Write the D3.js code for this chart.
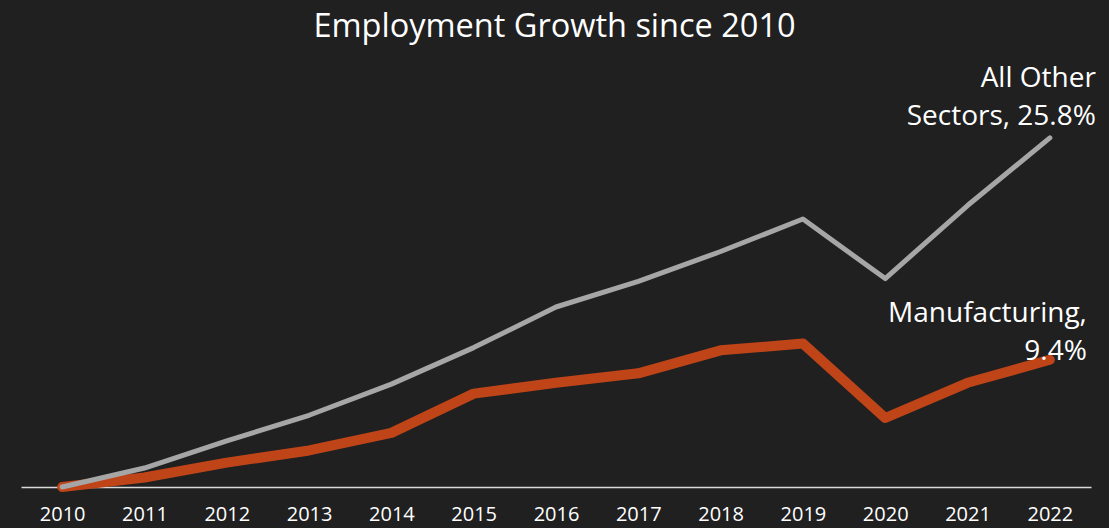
<!DOCTYPE html>
<html>
<head>
<meta charset="utf-8">
<script src="https://cdn.jsdelivr.net/npm/d3@7"></script>
<style>
  html, body { margin: 0; padding: 0; background: #202021; }
  svg { display: block; font-family: "Open Sans", sans-serif; }
</style>
</head>
<body>
<script>
(function() {
  'use strict';

  const years = ['2010', '2011', '2012', '2013', '2014', '2015', '2016',
    '2017', '2018', '2019', '2020', '2021', '2022'];
  const otherSectors = [0, 1.4, 3.4, 5.3, 7.6, 10.3, 13.3, 15.2, 17.4, 19.8, 15.4, 20.8, 25.8];
  const manufacturing = [0, 0.7, 1.8, 2.7, 4.0, 6.9, 7.7, 8.4, 10.1, 10.6, 5.1, 7.7, 9.4];
  const otherLabel = ['All Other', 'Sectors, 25.8%'];
  const mfgLabel = ['Manufacturing,', '9.4%'];

  const w = 1109;
  const h = 528;

  const svg = d3.select('body')
    .append('svg')
    .attr('width', w)
    .attr('height', h);

  svg.append('rect')
    .attr('width', w)
    .attr('height', h)
    .attr('fill', '#202021');

  // scales
  const xScale = d3.scalePoint()
    .domain(years)
    .range([21, 1091])
    .padding(0.5);

  const yScale = d3.scaleLinear()
    .domain([0, 30])
    .range([487, 81]);

  // title
  svg.append('text')
    .attr('x', w / 2)
    .attr('y', 37)
    .attr('text-anchor', 'middle')
    .attr('fill', '#ffffff')
    .attr('font-size', 32.5)
    .text('Employment Growth since 2010');

  // x axis, no ticks, just the baseline
  const xAxis = d3.axisBottom(xScale).tickSize(0).tickPadding(20);
  const gx = svg.append('g')
    .attr('transform', 'translate(0,' + yScale(0) + ')')
    .call(xAxis);
  gx.select('.domain')
    .attr('stroke', '#d9d9d9')
    .attr('stroke-width', 1.5);
  gx.selectAll('text')
    .attr('fill', '#ffffff')
    .attr('font-size', 20)
    .attr('font-family', '"Open Sans", sans-serif');

  const line = d3.line()
    .x((d, i) => xScale(years[i]))
    .y((d) => yScale(d));

  svg.append('path')
    .datum(manufacturing)
    .attr('d', line)
    .attr('fill', 'none')
    .attr('stroke', '#bf4518')
    .attr('stroke-width', 10)
    .attr('stroke-linejoin', 'round')
    .attr('stroke-linecap', 'round');

  svg.append('path')
    .datum(otherSectors)
    .attr('d', line)
    .attr('fill', 'none')
    .attr('stroke', '#a6a6a6')
    .attr('stroke-width', 5)
    .attr('stroke-linejoin', 'round')
    .attr('stroke-linecap', 'round');

  // end labels
  const last = years.length - 1;
  const xEnd = xScale(years[last]);

  const otherText = svg.append('text')
    .attr('text-anchor', 'end')
    .attr('fill', '#ffffff')
    .attr('font-size', 28);
  otherLabel.forEach((t, i) => {
    otherText.append('tspan')
      .attr('x', xEnd + 46)
      .attr('y', yScale(otherSectors[last]) - 51 + i * 38)
      .text(t);
  });

  const mfgText = svg.append('text')
    .attr('text-anchor', 'end')
    .attr('fill', '#ffffff')
    .attr('font-size', 28);
  mfgLabel.forEach((t, i) => {
    mfgText.append('tspan')
      .attr('x', xEnd + 37)
      .attr('y', yScale(manufacturing[last]) - 38 + i * 38)
      .text(t);
  });
}());
</script>
</body>
</html>
